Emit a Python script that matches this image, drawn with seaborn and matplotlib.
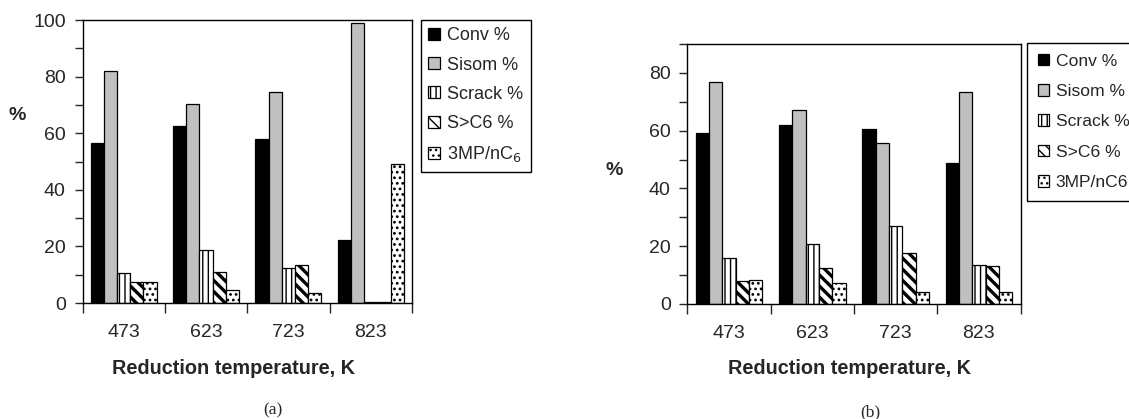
import pandas as pd
import matplotlib
matplotlib.use("Agg")
import matplotlib.pyplot as plt
from matplotlib.patches import Patch
import seaborn as sns

temps = ["473", "623", "723", "823"]
series = ["Conv %", "Sisom %", "Scrack %", "S>C6 %", "3MP/nC6"]

# panel (a)
conv_a = [56.5, 62.4, 58.0, 22.2]
sisom_a = [82.0, 70.2, 74.6, 99.1]
scrack_a = [10.6, 18.7, 12.5, 0.4]
sc6_a = [7.6, 11.1, 13.4, 0.4]
mp_a = [7.6, 4.6, 3.5, 49.2]

# panel (b)
conv_b = [59.3, 62.1, 60.7, 48.7]
sisom_b = [76.9, 67.2, 55.8, 73.5]
scrack_b = [16.0, 20.9, 27.1, 13.6]
sc6_b = [8.1, 12.3, 17.7, 13.1]
mp_b = [8.4, 7.1, 4.3, 4.3]

colors = {"Conv %": "black", "Sisom %": "#c0c0c0", "Scrack %": "white",
          "S>C6 %": "white", "3MP/nC6": "white"}
hatches = {"Conv %": "", "Sisom %": "", "Scrack %": "|||",
           "S>C6 %": "\\\\\\", "3MP/nC6": "..."}
hatch_lw = {"Conv %": 1.0, "Sisom %": 1.0, "Scrack %": 1.0,
            "S>C6 %": 2.4, "3MP/nC6": 1.2}

sns.set_style("white")
plt.rcParams["font.family"] = ["Liberation Sans", "DejaVu Sans"]
plt.rcParams["hatch.linewidth"] = 1.0


def long_table(cols):
    rows = []
    for name, vals in zip(series, cols):
        for t, v in zip(temps, vals):
            rows.append({"temp": t, "series": name, "value": v})
    return pd.DataFrame(rows)


def draw_panel(ax, df, ymax, legend_labels, legend_xy, legend_size,
               spacing, pad):
    sns.barplot(data=df, x="temp", y="value", hue="series", hue_order=series,
                order=temps, palette=colors, width=0.8, edgecolor="black",
                linewidth=0.9, saturation=1, legend=False, ax=ax)
    for name, cont in zip(series, ax.containers):
        for bar in cont:
            bar.set_hatch(hatches[name])
            bar.set_edgecolor("black")
            if hasattr(bar, "set_hatch_linewidth"):
                bar.set_hatch_linewidth(hatch_lw[name])

    ax.set_xlim(-0.5, 3.5)
    ax.set_ylim(0, ymax)
    ax.set_xlabel("")
    ax.set_ylabel("")
    ax.set_xticks(range(len(temps)))
    ax.set_xticklabels(temps)
    ax.set_xticks([-0.5, 0.5, 1.5, 2.5, 3.5], minor=True)
    ax.set_yticks(range(0, ymax + 1, 20))
    ax.set_yticks(range(10, ymax + 1, 20), minor=True)
    ax.tick_params(axis="x", which="major", length=0, pad=15, labelsize=14)
    ax.tick_params(axis="x", which="minor", length=7, width=1, direction="out",
                   bottom=True)
    ax.tick_params(axis="y", which="both", length=6, width=1, direction="out",
                   left=True, pad=6, labelsize=14)
    for s in ax.spines.values():
        s.set_visible(True)
        s.set_color("black")
        s.set_linewidth(1.0)

    handles = [Patch(facecolor=colors[n], edgecolor="black", hatch=hatches[n],
                     linewidth=0.9) for n in series]
    fig = ax.figure
    leg = ax.legend(handles, legend_labels, loc="upper left",
                    bbox_to_anchor=legend_xy, bbox_transform=fig.transFigure,
                    borderaxespad=0, fontsize=legend_size, frameon=True,
                    fancybox=False, edgecolor="black", framealpha=1,
                    handlelength=0.65, handleheight=0.65, handletextpad=0.4,
                    labelspacing=spacing, borderpad=pad)
    leg.get_frame().set_linewidth(1.0)


fig = plt.figure(figsize=(11.29, 4.19), dpi=100)
ax_a = fig.add_axes([0.0731, 0.2768, 0.2918, 0.6754])
ax_b = fig.add_axes([0.6089, 0.2745, 0.2950, 0.6205])

df_a = long_table([conv_a, sisom_a, scrack_a, sc6_a, mp_a])
df_b = long_table([conv_b, sisom_b, scrack_b, sc6_b, mp_b])

draw_panel(ax_a, df_a, 100,
           ["Conv %", "Sisom %", "Scrack %", "S>C6 %", "3MP/nC$_6$"],
           (421 / 1129, 1 - 20 / 419), 13, 0.68, 0.4)
draw_panel(ax_b, df_b, 90, series, (1027 / 1129, 1 - 43 / 419), 12.6,
           0.88, 0.6)

# axis titles and panel captions
fig.text(17.5 / 1129, 1 - 115 / 419, "%", ha="center", va="center",
         fontsize=14, fontweight="bold")
fig.text(614 / 1129, 1 - 170 / 419, "%", ha="center", va="center",
         fontsize=14, fontweight="bold")
fig.text(234 / 1129, 1 - 368 / 419, "Reduction temperature, K", ha="center",
         va="center", fontsize=14.3, fontweight="bold")
fig.text(849 / 1129, 1 - 368 / 419, "Reduction temperature, K", ha="center",
         va="center", fontsize=14.3, fontweight="bold")
fig.text(273 / 1129, 1 - 410 / 419, "(a)", ha="center", va="center",
         fontsize=12.5, family="Liberation Serif")
fig.text(870 / 1129, 1 - 412 / 419, "(b)", ha="center", va="center",
         fontsize=12.5, family="Liberation Serif")

fig.savefig("out.png", dpi=100)
plt.close(fig)
